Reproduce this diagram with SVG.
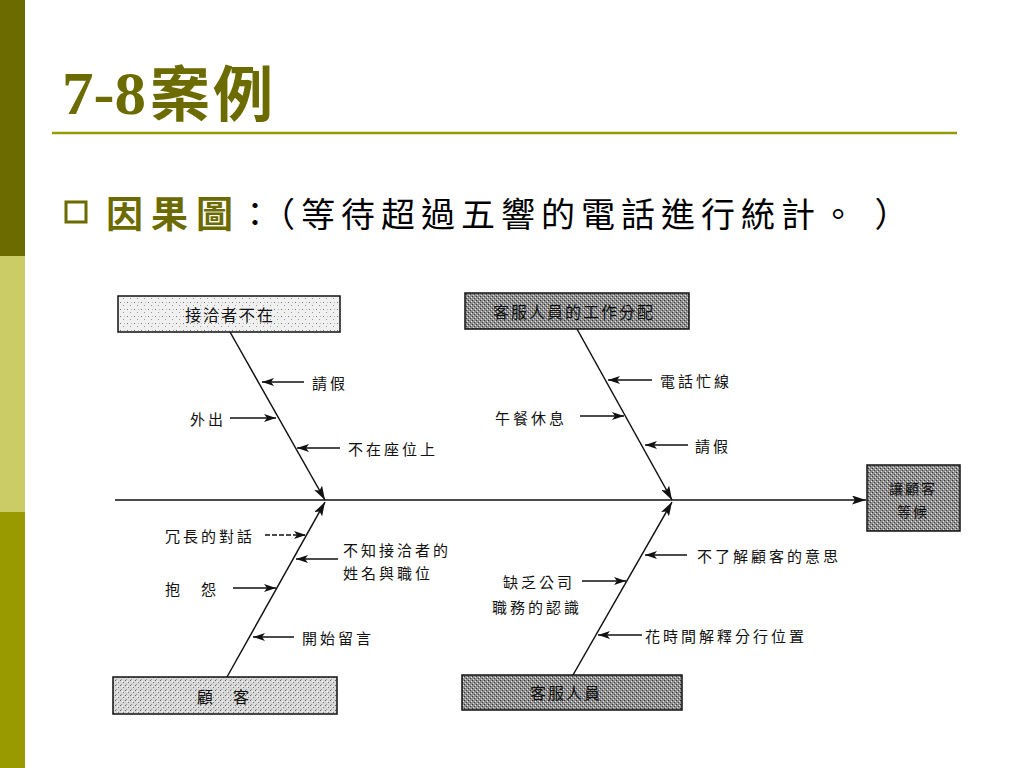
<svg xmlns="http://www.w3.org/2000/svg" width="1024" height="768" viewBox="0 0 1024 768">
<style>
.lbl{font-family:"Noto Sans CJK TC","Noto Sans CJK SC",sans-serif;font-size:15px;letter-spacing:3px;fill:#111;dominant-baseline:central}
.bx{font-family:"Noto Sans CJK TC","Noto Sans CJK SC",sans-serif;font-size:16px;letter-spacing:2px;fill:#111;dominant-baseline:central}
.bxs{font-family:"Noto Sans CJK TC","Noto Sans CJK SC",sans-serif;font-size:14px;letter-spacing:2px;fill:#111;dominant-baseline:central}
.bone{stroke:#111;stroke-width:1.5;fill:none}
.sub{stroke:#111;stroke-width:1.4;fill:none;marker-end:url(#sah)}
.boxL{fill:url(#pLight);stroke:#111;stroke-width:1.5}
.boxM{fill:url(#pMed);stroke:#111;stroke-width:1.5}
.boxD{fill:url(#pDark);stroke:#111;stroke-width:1.5}
</style>
<defs>
<pattern id="pLight" width="7" height="7" patternUnits="userSpaceOnUse">
<rect width="7" height="7" fill="#f0f0f0"/><rect x="1" y="1" width="1" height="1" fill="#777"/><rect x="4" y="4" width="1" height="1" fill="#999"/><rect x="5" y="1" width="1" height="1" fill="#bbb"/>
</pattern>
<pattern id="pMed" width="5" height="5" patternUnits="userSpaceOnUse">
<rect width="5" height="5" fill="#d8d8d8"/><rect x="0" y="0" width="1" height="1" fill="#666"/><rect x="3" y="2" width="1" height="1" fill="#777"/><rect x="1" y="4" width="1" height="1" fill="#999"/><rect x="2" y="1" width="1" height="1" fill="#fff"/>
</pattern>
<pattern id="pDark" width="4" height="4" patternUnits="userSpaceOnUse">
<rect width="4" height="4" fill="#8e8e8e"/><rect x="0" y="0" width="1" height="1" fill="#333"/><rect x="2" y="2" width="1" height="1" fill="#444"/><rect x="1" y="3" width="1" height="1" fill="#e0e0e0"/><rect x="3" y="1" width="1" height="1" fill="#eee"/>
</pattern>
<marker id="ah" viewBox="0 0 14 9" refX="14" refY="4.5" markerWidth="14" markerHeight="9" orient="auto" markerUnits="userSpaceOnUse">
<path d="M0,0 L14,4.5 L0,9 L3,4.5 z" fill="#111"/>
</marker>
<marker id="sah" viewBox="0 0 12 8" refX="12" refY="4" markerWidth="12" markerHeight="8" orient="auto" markerUnits="userSpaceOnUse">
<path d="M0,0 L12,4 L0,8 L3,4 z" fill="#111"/>
</marker>
</defs>

<rect width="1024" height="768" fill="#ffffff"/>

<!-- left colour bar -->
<g id="sidebar">
<rect x="0" y="0" width="25" height="256" fill="#6b6b00"/>
<rect x="0" y="256" width="25" height="256" fill="#cccc66"/>
<rect x="0" y="512" width="25" height="256" fill="#999900"/>
</g>

<!-- title -->
<g id="title">
<text x="62" y="114" font-family="Liberation Serif,serif" font-weight="bold" font-size="62" fill="#6b6b00" textLength="84" lengthAdjust="spacingAndGlyphs">7-8</text>
<text x="150" y="116" font-family="Noto Sans CJK TC,sans-serif" font-weight="bold" font-size="60" fill="#6b6b00" letter-spacing="3">案例</text>
<line x1="52" y1="133" x2="957" y2="133" stroke="#999900" stroke-width="2.5"/>
</g>

<!-- bullet -->
<g id="bullet">
<rect x="66" y="202" width="20" height="20" fill="none" stroke="#6b6b00" stroke-width="3"/>
<text x="106" y="228" font-family="Noto Sans CJK TC,sans-serif" font-weight="bold" font-size="37" fill="#6b6b00" letter-spacing="8">因果圖</text>
<text x="238" y="227" font-family="Noto Sans CJK TC,sans-serif" font-size="34" fill="#000" letter-spacing="6">：（等待超過五響的電話進行統計。 ）</text>
</g>

<!-- connectors -->
<g id="connectors">
<line class="bone" x1="115" y1="500" x2="866" y2="500" stroke-width="2" marker-end="url(#ah)"/>
<line class="bone" x1="230" y1="332" x2="325" y2="500" marker-end="url(#ah)"/>
<line class="bone" x1="227" y1="677" x2="325" y2="502" marker-end="url(#ah)"/>
<line class="bone" x1="577" y1="329" x2="672" y2="500" marker-end="url(#ah)"/>
<line class="bone" x1="573" y1="675" x2="672" y2="502" marker-end="url(#ah)"/>

<line class="sub" x1="304" y1="382" x2="262" y2="382"/>
<line class="sub" x1="230" y1="418" x2="276" y2="418"/>
<line class="sub" x1="340" y1="448" x2="297" y2="448"/>

<line class="sub" x1="265" y1="535" x2="306" y2="535" stroke-dasharray="5,2"/>
<line class="sub" x1="338" y1="559" x2="296" y2="559"/>
<line class="sub" x1="233" y1="588" x2="276" y2="588"/>
<line class="sub" x1="294" y1="637" x2="253" y2="637"/>

<line class="sub" x1="652" y1="380" x2="608" y2="380"/>
<line class="sub" x1="580" y1="416" x2="624" y2="416"/>
<line class="sub" x1="688" y1="445" x2="645" y2="445"/>

<line class="sub" x1="687" y1="555" x2="645" y2="555"/>
<line class="sub" x1="582" y1="581" x2="626" y2="581"/>
<line class="sub" x1="642" y1="635" x2="598" y2="635"/>
</g>

<!-- nodes -->
<g id="node-absent">
<rect class="boxL" x="118" y="296" width="222" height="36"/>
<text class="bx" x="185" y="314">接洽者不在</text>
</g>
<g id="node-staff-alloc">
<rect class="boxD" x="465" y="293" width="224" height="36"/>
<text class="bx" x="493" y="311">客服人員的工作分配</text>
</g>
<g id="node-effect">
<rect class="boxD" x="867" y="465" width="93" height="66"/>
<text class="bxs" x="889" y="488">讓顧客</text>
<text class="bxs" x="897" y="511">等候</text>
</g>
<g id="node-customer">
<rect class="boxM" x="113" y="677" width="224" height="37"/>
<text class="bx" x="197" y="696">顧　客</text>
</g>
<g id="node-staff">
<rect class="boxD" x="462" y="675" width="220" height="35"/>
<text class="bx" x="530" y="692">客服人員</text>
</g>

<!-- cause labels -->
<g id="labels">
<text class="lbl" x="312" y="382">請假</text>
<text class="lbl" x="190" y="418">外出</text>
<text class="lbl" x="348" y="448">不在座位上</text>

<text class="lbl" x="165" y="535">冗長的對話</text>
<text class="lbl" x="343" y="549">不知接洽者的</text>
<text class="lbl" x="343" y="572">姓名與職位</text>
<text class="lbl" x="165" y="588">抱　怨</text>
<text class="lbl" x="302" y="637">開始留言</text>

<text class="lbl" x="660" y="380">電話忙線</text>
<text class="lbl" x="495" y="417">午餐休息</text>
<text class="lbl" x="695" y="445">請假</text>

<text class="lbl" x="697" y="555">不了解顧客的意思</text>
<text class="lbl" x="503" y="581">缺乏公司</text>
<text class="lbl" x="492" y="606">職務的認識</text>
<text class="lbl" x="645" y="635">花時間解釋分行位置</text>
</g>
</svg>
